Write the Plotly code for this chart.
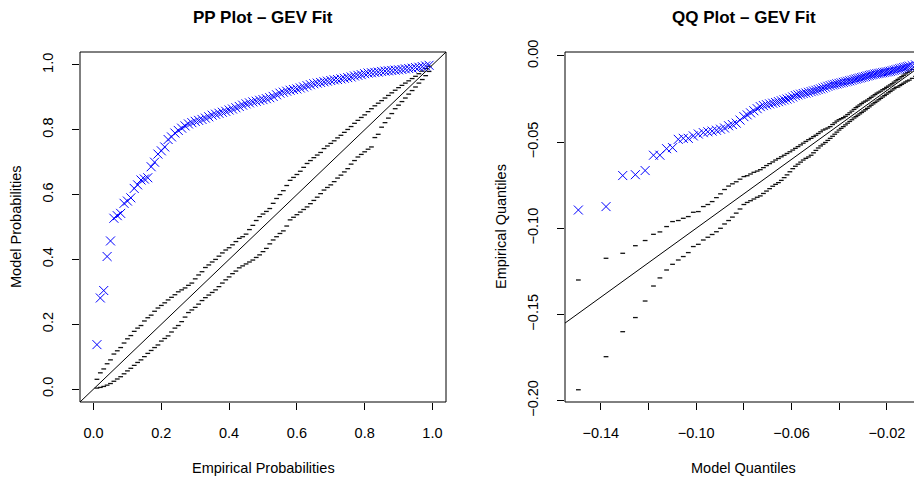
import plotly.graph_objects as go

# ---- PP plot data (empirical prob vs model prob) ----
pp_emp = [0.01, 0.02, 0.03, 0.04, 0.05, 0.06, 0.07, 0.08, 0.09, 0.10,
          0.11, 0.12, 0.13, 0.14, 0.15, 0.16, 0.17, 0.18, 0.19, 0.20,
          0.21, 0.22, 0.23, 0.24, 0.25, 0.26, 0.27, 0.28, 0.29, 0.30,
          0.31, 0.32, 0.33, 0.34, 0.35, 0.36, 0.37, 0.38, 0.39, 0.40,
          0.41, 0.42, 0.43, 0.44, 0.45, 0.46, 0.47, 0.48, 0.49, 0.50,
          0.51, 0.52, 0.53, 0.54, 0.55, 0.56, 0.57, 0.58, 0.59, 0.60,
          0.61, 0.62, 0.63, 0.64, 0.65, 0.66, 0.67, 0.68, 0.69, 0.70,
          0.71, 0.72, 0.73, 0.74, 0.75, 0.76, 0.77, 0.78, 0.79, 0.80,
          0.81, 0.82, 0.83, 0.84, 0.85, 0.86, 0.87, 0.88, 0.89, 0.90,
          0.91, 0.92, 0.93, 0.94, 0.95, 0.96, 0.97, 0.98, 0.99]
pp_model = [0.137, 0.281, 0.304, 0.409, 0.457, 0.527, 0.535, 0.542, 0.573, 0.580,
            0.590, 0.619, 0.630, 0.645, 0.648, 0.652, 0.686, 0.700, 0.725, 0.735,
            0.747, 0.770, 0.778, 0.790, 0.798, 0.805, 0.812, 0.818, 0.822, 0.826,
            0.829, 0.832, 0.836, 0.840, 0.845, 0.848, 0.851, 0.854, 0.857, 0.861,
            0.864, 0.868, 0.872, 0.876, 0.880, 0.883, 0.886, 0.888, 0.891, 0.893,
            0.896, 0.899, 0.903, 0.908, 0.913, 0.916, 0.919, 0.922, 0.924, 0.926,
            0.929, 0.932, 0.936, 0.939, 0.942, 0.944, 0.946, 0.948, 0.950, 0.952,
            0.954, 0.955, 0.957, 0.959, 0.961, 0.963, 0.966, 0.968, 0.970, 0.973,
            0.975, 0.976, 0.977, 0.978, 0.980, 0.981, 0.982, 0.983, 0.984, 0.985,
            0.986, 0.988, 0.989, 0.990, 0.992, 0.993, 0.995, 0.997, 0.999]
pp_upper = [0.030, 0.050, 0.062, 0.078, 0.090, 0.108, 0.118, 0.128, 0.142, 0.155,
            0.165, 0.178, 0.188, 0.196, 0.210, 0.220, 0.228, 0.240, 0.250, 0.258,
            0.266, 0.275, 0.283, 0.291, 0.300, 0.306, 0.312, 0.320, 0.327, 0.340,
            0.352, 0.362, 0.375, 0.383, 0.392, 0.400, 0.410, 0.420, 0.429, 0.436,
            0.445, 0.455, 0.465, 0.470, 0.478, 0.492, 0.505, 0.520, 0.532, 0.540,
            0.548, 0.557, 0.573, 0.588, 0.600, 0.612, 0.628, 0.644, 0.653, 0.662,
            0.672, 0.684, 0.696, 0.705, 0.714, 0.722, 0.730, 0.742, 0.750, 0.758,
            0.766, 0.775, 0.783, 0.792, 0.801, 0.810, 0.820, 0.829, 0.838, 0.846,
            0.856, 0.865, 0.874, 0.882, 0.890, 0.898, 0.906, 0.914, 0.922, 0.930,
            0.937, 0.944, 0.951, 0.958, 0.965, 0.973, 0.981, 0.989, 0.996]
pp_lower = [0.003, 0.005, 0.008, 0.012, 0.017, 0.024, 0.031, 0.038, 0.047, 0.056,
            0.064, 0.073, 0.082, 0.090, 0.100, 0.110, 0.119, 0.128, 0.136, 0.148,
            0.156, 0.164, 0.176, 0.188, 0.196, 0.208, 0.222, 0.236, 0.244, 0.252,
            0.262, 0.273, 0.282, 0.290, 0.298, 0.306, 0.316, 0.327, 0.337, 0.346,
            0.356, 0.364, 0.374, 0.380, 0.386, 0.392, 0.398, 0.406, 0.414, 0.424,
            0.434, 0.448, 0.460, 0.470, 0.480, 0.488, 0.503, 0.522, 0.530, 0.538,
            0.546, 0.554, 0.562, 0.572, 0.582, 0.592, 0.603, 0.614, 0.622, 0.630,
            0.640, 0.651, 0.660, 0.670, 0.680, 0.694, 0.705, 0.716, 0.724, 0.732,
            0.740, 0.747, 0.776, 0.786, 0.808, 0.822, 0.836, 0.850, 0.865, 0.876,
            0.887, 0.898, 0.910, 0.921, 0.932, 0.944, 0.955, 0.967, 0.980]

# ---- QQ plot data (model quantiles vs empirical quantiles) ----
qq_model = [-0.1494, -0.1378, -0.1308, -0.1255, -0.1214, -0.1179, -0.1152, -0.1124, -0.1099, -0.1075,
            -0.1054, -0.1033, -0.1012, -0.0991, -0.0970, -0.0951, -0.0933, -0.0915, -0.0898, -0.0881,
            -0.0864, -0.0848, -0.0832, -0.0816, -0.0800, -0.0786, -0.0772, -0.0758, -0.0744, -0.0731,
            -0.0718, -0.0705, -0.0692, -0.0679, -0.0667, -0.0655, -0.0643, -0.0631, -0.0619, -0.0607,
            -0.0595, -0.0584, -0.0573, -0.0562, -0.0551, -0.0540, -0.0529, -0.0518, -0.0508, -0.0498,
            -0.0488, -0.0478, -0.0468, -0.0458, -0.0448, -0.0438, -0.0428, -0.0419, -0.0410, -0.0401,
            -0.0392, -0.0383, -0.0374, -0.0365, -0.0356, -0.0347, -0.0338, -0.0330, -0.0322, -0.0314,
            -0.0306, -0.0298, -0.0290, -0.0282, -0.0274, -0.0266, -0.0258, -0.0250, -0.0242, -0.0234,
            -0.0226, -0.0218, -0.0210, -0.0202, -0.0194, -0.0186, -0.0178, -0.0170, -0.0162, -0.0154,
            -0.0146, -0.0138, -0.0130, -0.0122, -0.0114, -0.0106, -0.0094, -0.0080, -0.0062]
qq_emp = [-0.0894, -0.0874, -0.0694, -0.0689, -0.0665, -0.0576, -0.0576, -0.0538, -0.0532, -0.0484,
          -0.0478, -0.0478, -0.0464, -0.0453, -0.0445, -0.0440, -0.0436, -0.0431, -0.0425, -0.0418,
          -0.0405, -0.0398, -0.0390, -0.0372, -0.0352, -0.0342, -0.0330, -0.0318, -0.0306, -0.0294,
          -0.0288, -0.0283, -0.0278, -0.0274, -0.0270, -0.0265, -0.0260, -0.0255, -0.0250, -0.0245,
          -0.0238, -0.0230, -0.0226, -0.0222, -0.0218, -0.0215, -0.0211, -0.0207, -0.0203, -0.0199,
          -0.0195, -0.0191, -0.0186, -0.0181, -0.0176, -0.0172, -0.0168, -0.0165, -0.0162, -0.0159,
          -0.0156, -0.0153, -0.0150, -0.0147, -0.0144, -0.0141, -0.0137, -0.0134, -0.0131, -0.0128,
          -0.0125, -0.0122, -0.0119, -0.0116, -0.0113, -0.0110, -0.0108, -0.0105, -0.0103, -0.0101,
          -0.0099, -0.0097, -0.0095, -0.0093, -0.0091, -0.0089, -0.0086, -0.0083, -0.0080, -0.0077,
          -0.0074, -0.0071, -0.0068, -0.0065, -0.0062, -0.0059, -0.0056, -0.0052, -0.0045]
qq_upper = [-0.1300, -0.1174, -0.1145, -0.1101, -0.1071, -0.1035, -0.1021, -0.0990, -0.0961, -0.0955,
            -0.0942, -0.0932, -0.0907, -0.0903, -0.0874, -0.0862, -0.0845, -0.0822, -0.0800, -0.0775,
            -0.0755, -0.0742, -0.0730, -0.0715, -0.0700, -0.0695, -0.0685, -0.0675, -0.0668, -0.0660,
            -0.0648, -0.0636, -0.0625, -0.0615, -0.0604, -0.0595, -0.0585, -0.0576, -0.0566, -0.0556,
            -0.0546, -0.0536, -0.0526, -0.0516, -0.0506, -0.0496, -0.0486, -0.0478, -0.0468, -0.0460,
            -0.0450, -0.0440, -0.0430, -0.0424, -0.0418, -0.0410, -0.0398, -0.0388, -0.0378, -0.0370,
            -0.0364, -0.0358, -0.0350, -0.0340, -0.0330, -0.0320, -0.0310, -0.0300, -0.0292, -0.0284,
            -0.0276, -0.0268, -0.0262, -0.0256, -0.0248, -0.0240, -0.0232, -0.0224, -0.0216, -0.0210,
            -0.0204, -0.0196, -0.0190, -0.0182, -0.0175, -0.0168, -0.0161, -0.0152, -0.0144, -0.0136,
            -0.0128, -0.0120, -0.0112, -0.0104, -0.0096, -0.0088, -0.0078, -0.0066, -0.0052]
qq_lower = [-0.1937, -0.1745, -0.1600, -0.1518, -0.1422, -0.1335, -0.1288, -0.1242, -0.1209, -0.1184,
            -0.1164, -0.1141, -0.1106, -0.1093, -0.1068, -0.1052, -0.1036, -0.1020, -0.1000, -0.0975,
            -0.0955, -0.0935, -0.0912, -0.0888, -0.0862, -0.0850, -0.0840, -0.0830, -0.0820, -0.0812,
            -0.0798, -0.0784, -0.0770, -0.0756, -0.0745, -0.0735, -0.0722, -0.0706, -0.0690, -0.0672,
            -0.0654, -0.0640, -0.0628, -0.0616, -0.0604, -0.0594, -0.0586, -0.0576, -0.0562, -0.0548,
            -0.0534, -0.0522, -0.0512, -0.0502, -0.0490, -0.0478, -0.0466, -0.0454, -0.0442, -0.0430,
            -0.0420, -0.0410, -0.0400, -0.0390, -0.0380, -0.0370, -0.0360, -0.0352, -0.0344, -0.0336,
            -0.0328, -0.0320, -0.0312, -0.0304, -0.0295, -0.0286, -0.0278, -0.0270, -0.0262, -0.0254,
            -0.0246, -0.0238, -0.0230, -0.0222, -0.0214, -0.0206, -0.0198, -0.0190, -0.0182, -0.0180,
            -0.0172, -0.0165, -0.0158, -0.0151, -0.0145, -0.0140, -0.0130, -0.0118, -0.0102]

pp_ticks = [0.0, 0.2, 0.4, 0.6, 0.8, 1.0]
pp_labels = ["0.0", "0.2", "0.4", "0.6", "0.8", "1.0"]
qq_xticks = [-0.14, -0.12, -0.10, -0.08, -0.06, -0.04, -0.02]
qq_xlabels = ["\u22120.14", "", "\u22120.10", "", "\u22120.06", "", "\u22120.02"]
qq_yticks = [0.00, -0.05, -0.10, -0.15, -0.20]
qq_ylabels = ["0.00", "\u22120.05", "\u22120.10", "\u22120.15", "\u22120.20"]

pp_range = [-0.04, 1.04]
qq_xrange = [-0.1550, -0.0053]
qq_yrange = [-0.2008, 0.0023]

FONT = "Liberation Sans, Arial, Helvetica, sans-serif"
BLUE = "#0000FF"

fig = go.Figure()

cross = dict(symbol="x-thin", size=9, color=BLUE, line=dict(color=BLUE, width=1))
dash = dict(symbol="line-ew", size=3.4, color="#111", line=dict(color="#111", width=1.3))

# PP panel
fig.add_trace(go.Scatter(x=pp_range, y=pp_range, mode="lines", line=dict(color="black", width=1),
                         xaxis="x", yaxis="y"))
fig.add_trace(go.Scatter(x=pp_emp, y=pp_upper, mode="markers", marker=dash, xaxis="x", yaxis="y"))
fig.add_trace(go.Scatter(x=pp_emp, y=pp_lower, mode="markers", marker=dash, xaxis="x", yaxis="y"))
fig.add_trace(go.Scatter(x=pp_emp, y=pp_model, mode="markers", marker=cross, xaxis="x", yaxis="y"))

# QQ panel
fig.add_trace(go.Scatter(x=[-0.16, 0.0], y=[-0.16, 0.0], mode="lines", line=dict(color="black", width=1),
                         xaxis="x2", yaxis="y2"))
fig.add_trace(go.Scatter(x=qq_model, y=qq_upper, mode="markers", marker=dash, xaxis="x2", yaxis="y2"))
fig.add_trace(go.Scatter(x=qq_model, y=qq_lower, mode="markers", marker=dash, xaxis="x2", yaxis="y2"))
fig.add_trace(go.Scatter(x=qq_model, y=qq_emp, mode="markers", marker=cross, xaxis="x2", yaxis="y2"))

axis_common = dict(showgrid=False, zeroline=False, showline=False, ticks="outside", ticklen=7,
                   tickwidth=1, tickcolor="black", tickfont=dict(family=FONT, size=14.5, color="black"))

# page has an 8px body margin, so the figure is 8px smaller than the window
W, H = 914, 474
L, R, T, B = 72, 0, 44, 80
pw = W - L - R
d1 = [0, 366 / pw]
d2 = [485 / pw, 1]

fig.update_layout(
    width=W, height=H,
    margin=dict(l=L, r=R, t=T, b=B),
    paper_bgcolor="white", plot_bgcolor="white",
    showlegend=False,
    xaxis=dict(domain=d1, range=pp_range, tickvals=pp_ticks, ticktext=pp_labels,
               ticklabelstandoff=11, anchor="y", **axis_common),
    yaxis=dict(range=pp_range, tickvals=pp_ticks, ticktext=pp_labels,
               tickangle=-90, ticklabelstandoff=13, anchor="x", **axis_common),
    xaxis2=dict(domain=d2, range=qq_xrange, tickvals=qq_xticks, ticktext=qq_xlabels,
                ticklabelstandoff=11, anchor="y2", **axis_common),
    yaxis2=dict(range=qq_yrange, tickvals=qq_yticks, ticktext=qq_ylabels,
                tickangle=-90, ticklabelstandoff=13, anchor="x2", **axis_common),
)

# plot boxes (right panel runs off the right edge)
fig.add_shape(type="rect", xref="x domain", yref="y domain", x0=0, x1=1, y0=0, y1=1,
              line=dict(color="black", width=1))
for x0, y0, x1, y1 in [(0, 0, 1.1, 0), (0, 1, 1.1, 1), (0, 0, 0, 1)]:
    fig.add_shape(type="line", xref="x2 domain", yref="y2 domain", x0=x0, y0=y0, x1=x1, y1=y1,
                  line=dict(color="black", width=1))

tfont = dict(family=FONT, size=17, color="black")
lfont = dict(family=FONT, size=14.5, color="black")
panels = [("x domain", "y domain", "<b>PP Plot \u2013 GEV Fit</b>", "Empirical Probabilities",
           "Model Probabilities"),
          ("x2 domain", "y2 domain", "<b>QQ Plot \u2013 GEV Fit</b>", "Model Quantiles",
           "Empirical Quantiles")]
for xr, yr, title, xlab, ylab in panels:
    fig.add_annotation(xref=xr, yref="paper", x=0.5, y=1, yshift=T - 9, text=title, showarrow=False,
                       font=tfont, xanchor="center", yanchor="middle")
    fig.add_annotation(xref=xr, yref="paper", x=0.5, y=0, yshift=-66, text=xlab, showarrow=False,
                       font=lfont, xanchor="center", yanchor="middle")
    fig.add_annotation(xref=xr, yref=yr, x=0, y=0.5, xshift=-64, text=ylab, showarrow=False,
                       font=lfont, textangle=-90, xanchor="center", yanchor="middle")

fig.write_html("out.html")
